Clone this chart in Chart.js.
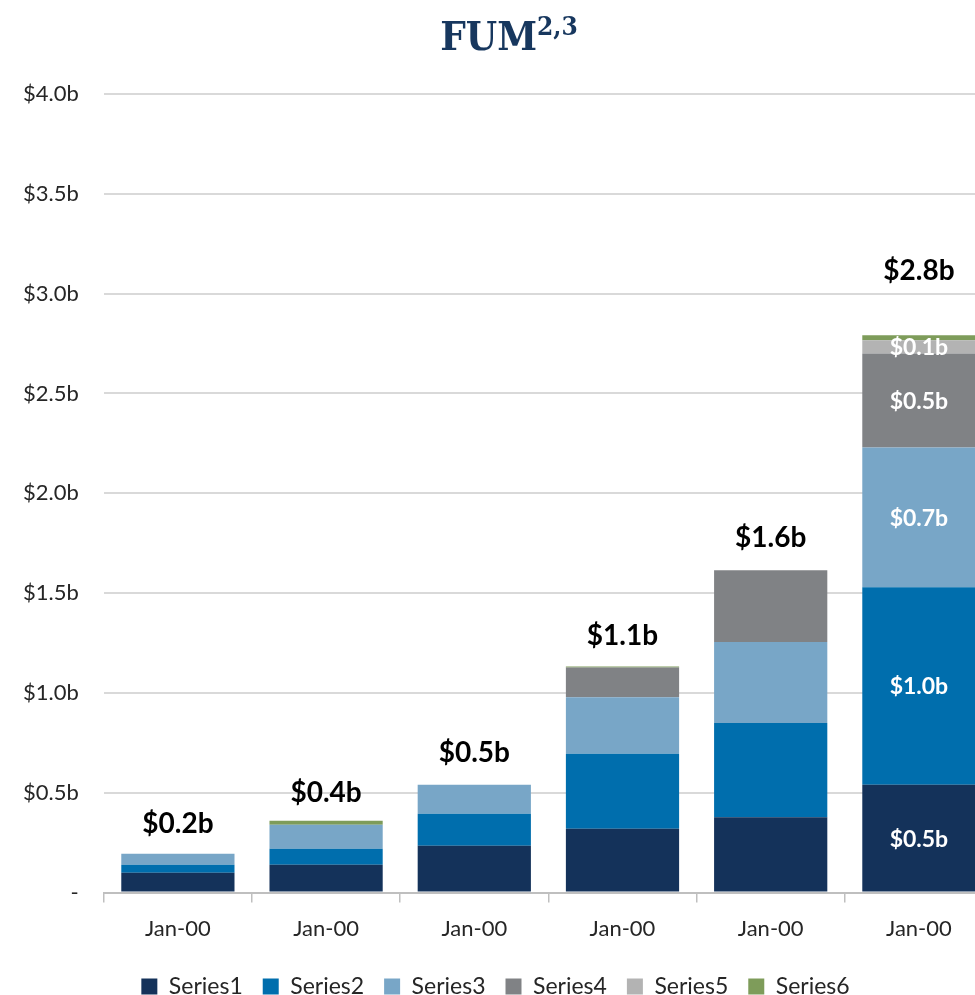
<!DOCTYPE html>
<html>
<head>
<meta charset="utf-8">
<script src="https://cdn.jsdelivr.net/npm/chart.js@4.4.0/dist/chart.umd.min.js"></script>
<style>
	html, body { margin: 0; padding: 0; background: #fff; overflow: hidden; }
	#holder { position: relative; width: 995px; height: 1008px; }
	#title {
		position: absolute; top: 12px; left: 0; width: 1018px; text-align: center;
		font-family: "DejaVu Serif Condensed", "DejaVu Serif", serif; font-weight: bold; font-size: 40px; color: #17375e;
	}
	#title sup { font-size: 26px; vertical-align: 15px; line-height: 0; }
</style>
</head>
<body>
<div id="holder">
	<div id="title">FUM<sup>2,3</sup></div>
	<canvas id="fumChart"></canvas>
</div>
<script>
// values in $b
var categories = ["Jan-00", "Jan-00", "Jan-00", "Jan-00", "Jan-00", "Jan-00"];
var series1 = [0.10, 0.14, 0.235, 0.32, 0.377, 0.54];
var series2 = [0.04, 0.08, 0.16, 0.375, 0.473, 0.99];
var series3 = [0.055, 0.12, 0.145, 0.283, 0.405, 0.70];
var series4 = [0, 0, 0, 0.149, 0.36, 0.47];
var series5 = [0, 0, 0, 0, 0, 0.067];
var series6 = [0, 0.02, 0, 0.006, 0, 0.025];
var seriesNames = ["Series1", "Series2", "Series3", "Series4", "Series5", "Series6"];
var yTicks = [0, 0.5, 1.0, 1.5, 2.0, 2.5, 3.0, 3.5, 4.0];

var colors = ["#14325a", "#006ead", "#78a6c7", "#808285", "#b3b3b3", "#7e9c5a"];
var allSeries = [series1, series2, series3, series4, series5, series6];

function money(v) {
	return "$" + v.toFixed(1) + "b";
}

// totals above the bars, segment values inside the last bar
var barLabels = {
	id: "barLabels",
	afterDatasetsDraw: function(chart, args, opts) {
		var ctx = chart.ctx;
		var y = chart.scales.y;
		var meta0 = chart.getDatasetMeta(0);
		ctx.save();
		ctx.textAlign = "center";
		ctx.textBaseline = "middle";
		ctx.font = "bold 28px Lato";
		ctx.fillStyle = "#000";
		for (let i = 0; i < categories.length; i++) {
			let total = 0;
			for (let s = 0; s < allSeries.length; s++) { total += allSeries[s][i]; }
			let x = meta0.data[i].x;
			ctx.fillText(money(total), x, y.getPixelForValue(total) - opts.gaps[i]);
		}
		var last = categories.length - 1;
		ctx.font = "bold 23px Lato";
		ctx.fillStyle = "#fff";
		for (let s = 0; s < allSeries.length; s++) {
			let v = allSeries[s][last];
			if (v < 0.05) { continue; }
			let bar = chart.getDatasetMeta(s).data[last];
			ctx.fillText(money(v), bar.x, (bar.y + bar.base) / 2 + 1);
		}
		ctx.restore();
	}
};

var datasets = [];
for (let s = 0; s < allSeries.length; s++) {
	datasets.push({
		label: seriesNames[s],
		data: allSeries[s],
		backgroundColor: colors[s],
		borderWidth: 0,
		categoryPercentage: 1.0,
		barPercentage: 0.764
	});
}

var chart = new Chart(document.getElementById("fumChart"), {
	type: "bar",
	data: { labels: categories, datasets: datasets },
	plugins: [barLabels],
	options: {
		responsive: true,
		maintainAspectRatio: false,
		animation: false,
		layout: { padding: { top: 94, left: -2, right: 2, bottom: 0 } },
		scales: {
			x: {
				stacked: true,
				grid: { offset: true, drawOnChartArea: false, tickLength: 10, color: "#bfbfbf", lineWidth: 1.5 },
				border: { display: true, color: "#bfbfbf", width: 2 },
				ticks: { color: "#262626", font: { family: "Lato", size: 22 }, padding: 13 }
			},
			y: {
				stacked: true,
				min: 0,
				max: 4,
				afterBuildTicks: function(axis) {
					axis.ticks = yTicks.map(function(v) { return { value: v }; });
				},
				grid: { color: "#d9d9d9", lineWidth: 2, drawTicks: false },
				border: { display: false },
				ticks: {
					color: "#262626",
					font: { family: "Lato", size: 22 },
					padding: 25,
					callback: function(v) { return v === 0 ? "-" : money(v); }
				}
			}
		},
		plugins: {
			legend: {
				position: "bottom",
				labels: {
					color: "#262626",
					font: { family: "Lato", size: 23 },
					boxWidth: 16,
					boxHeight: 16,
					padding: 20
				}
			},
			tooltip: { enabled: false },
			barLabels: { gaps: [30, 28, 32, 30, 32, 64] }
		}
	}
});
</script>
</body>
</html>
